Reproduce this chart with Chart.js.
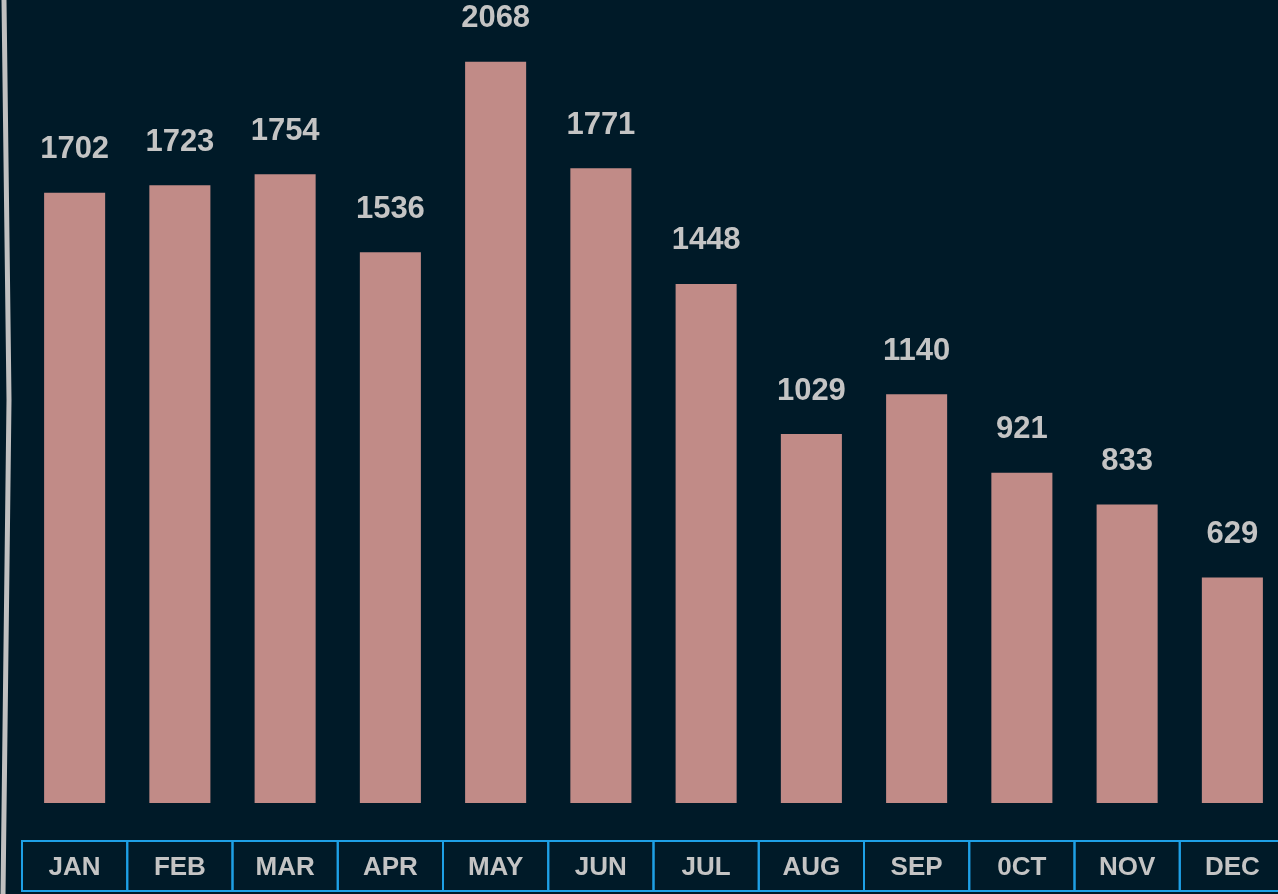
<!DOCTYPE html>
<html>
<head>
<meta charset="utf-8">
<script src="https://cdn.jsdelivr.net/npm/chart.js@4/dist/chart.umd.min.js"></script>
<style>
    html, body { margin: 0; padding: 0; background: #001a28; overflow: hidden; }
    canvas { display: block; }
</style>
</head>
<body>
<canvas id="sales" width="1305" height="894"></canvas>
<script>
let months = ["JAN", "FEB", "MAR", "APR", "MAY", "JUN", "JUL", "AUG", "SEP", "0CT", "NOV", "DEC"];
let totals = [1702, 1723, 1754, 1536, 2068, 1771, 1448, 1029, 1140, 921, 833, 629];

let barColor = '#c18b87';
let textColor = '#c4c4c4';
let boxColor = '#1ea0e6';

// numbers above each bar
let valueLabels = {
    id: 'valueLabels',
    afterDatasetsDraw(chart) {
        let ctx = chart.ctx;
        let meta = chart.getDatasetMeta(0);
        ctx.save();
        ctx.fillStyle = textColor;
        ctx.font = 'bold 31px "Liberation Sans", Arial, sans-serif';
        ctx.textAlign = 'center';
        ctx.textBaseline = 'middle';
        meta.data.forEach(function(bar, i) {
            ctx.fillText(String(totals[i]), bar.x, bar.y - 43);
        });
        ctx.restore();
    }
};

// blue boxes round the month names, plus the curled edge on the left
let monthBoxes = {
    id: 'monthBoxes',
    afterDraw(chart) {
        let ctx = chart.ctx;
        let xs = chart.scales.x;
        let step = xs.width / months.length;
        ctx.save();
        ctx.strokeStyle = boxColor;
        ctx.lineWidth = 2;
        for (let i = 0; i < months.length; i++) {
            let cx = xs.getPixelForTick(i);
            ctx.strokeRect(cx - step / 2, 841, step, 50);
        }
        ctx.strokeStyle = '#c0c0c0';
        ctx.lineWidth = 5;
        ctx.beginPath();
        ctx.moveTo(4, 0);
        ctx.lineTo(9, 400);
        ctx.lineTo(3, 894);
        ctx.stroke();
        ctx.restore();
    }
};

let ctx = document.getElementById("sales").getContext("2d");

let chart = new Chart(ctx, {
    type: 'bar',
    data: {
        labels: months,
        datasets: [{
            data: totals,
            backgroundColor: barColor,
            borderWidth: 0,
            barPercentage: 0.58,
            categoryPercentage: 1.0
        }]
    },
    options: {
        responsive: false,
        animation: false,
        layout: { padding: { left: 22, right: 20, top: 0, bottom: 0 } },
        plugins: {
            legend: { display: false },
            tooltip: { enabled: false }
        },
        scales: {
            x: {
                grid: { display: false },
                border: { display: false },
                afterFit(scale) { scale.height = 91; },
                ticks: {
                    color: textColor,
                    padding: 41,
                    maxRotation: 0,
                    font: { family: '"Liberation Sans", Arial, sans-serif', size: 26, weight: 'bold' }
                }
            },
            y: {
                display: false,
                min: 0,
                max: 2240
            }
        }
    },
    plugins: [valueLabels, monthBoxes]
});
</script>
</body>
</html>
